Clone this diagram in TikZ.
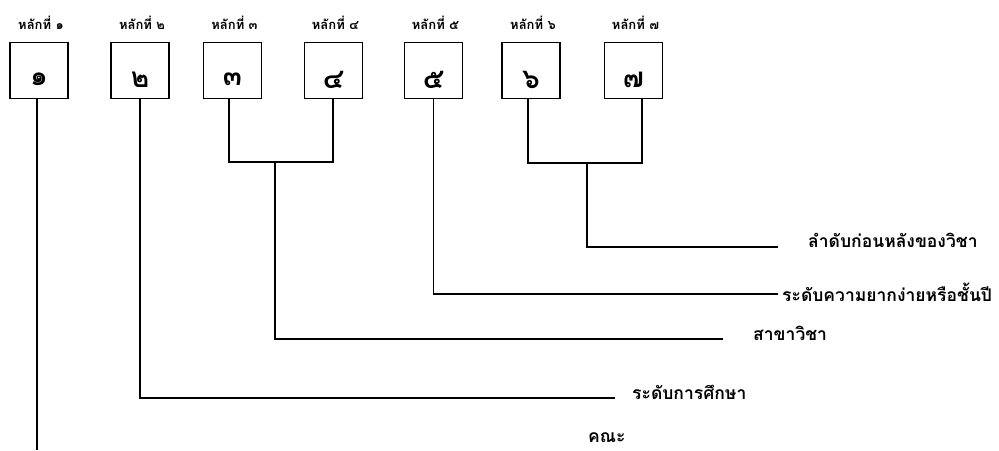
\documentclass[tikz,border=0pt]{standalone}
\usepackage{fontspec}
\newfontfamily\thaifont[Script=Thai]{Loma}
\begin{document}
\begin{tikzpicture}[x=1pt,y=-1pt,
  digbox/.style={draw,line width=1.8pt,minimum width=58pt,minimum height=56pt,inner sep=0pt},
  digit/.style={font=\thaifont\bfseries\fontsize{28}{30}\selectfont,inner sep=0pt},
  toplab/.style={font=\thaifont\bfseries\fontsize{13}{14}\selectfont,inner sep=0pt},
  sidelab/.style={font=\thaifont\bfseries\fontsize{17.5}{19}\selectfont,anchor=west,inner sep=0pt},
  conn/.style={line width=1.6pt}]
\useasboundingbox (0,0) rectangle (999,450);
% boxes
\foreach \n/\x/\d in {1/39/๑,2/140/๒,3/232.5/๓,4/333.5/๔,5/433.5/๕,6/531/๖,7/633.5/๗}{
  \node[digbox] (b\n) at (\x,70.5) {};
  \node[digit] (d\n) at ([yshift=-9pt]b\n.center) {\d};
  \node[toplab] (t\n) at (\x+2,23) {หลักที่ \d};
}
% junctions and ends
\coordinate (j34) at (275,162);
\coordinate (j67) at (587,163);
\coordinate (c1) at (37,450);
\coordinate (e2) at (615,398);
\coordinate (e34) at (723,339);
\coordinate (e5) at (778,294);
\coordinate (e67) at (778,247);
% side labels
\node[sidelab] (l67) at (808,240) {ลำดับก่อนหลังของวิชา};
\node[sidelab] (l5) at (782,292) {ระดับความยากง่ายหรือชั้นปี};
\node[sidelab] (l34) at (753,333) {สาขาวิชา};
\node[sidelab] (l2) at (632,392) {ระดับการศึกษา};
\node[sidelab] (l1) at (588,438) {คณะ};
% connectors
\draw[conn] ([xshift=-2pt]b1.south) -- (c1);
\draw[conn] (b2.south) |- (e2);
\draw[conn] ([xshift=-3.5pt]b3.south) |- (j34) -| ([xshift=-0.5pt]b4.south);
\draw[conn] (j34) |- (e34);
\draw[conn] (b5.south) |- (e5);
\draw[conn] ([xshift=-3pt]b6.south) |- (j67) -| ([xshift=8.5pt]b7.south);
\draw[conn] (j67) |- (e67);
\end{tikzpicture}
\end{document}
